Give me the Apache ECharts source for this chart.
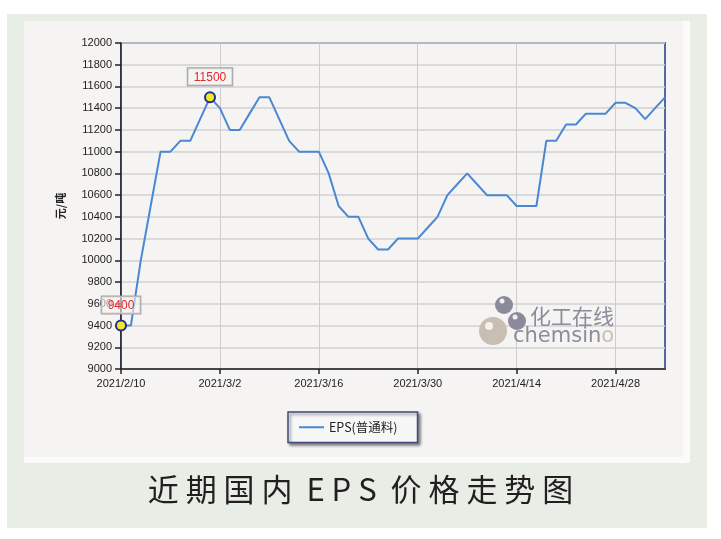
<!DOCTYPE html>
<html>
<head>
<meta charset="utf-8">
<script src="https://cdn.jsdelivr.net/npm/echarts@6/dist/echarts.min.js"></script>
<style>html,body{margin:0;padding:0;background:#fff}#c{width:721px;height:539px}</style>
</head>
<body>
<div id="c"></div>
<script>
const dates = ['2021/2/10','2021/2/18','2021/2/19','2021/2/20','2021/2/22','2021/2/23','2021/2/24','2021/2/25','2021/2/26','2021/3/1',
  '2021/3/2','2021/3/3','2021/3/4','2021/3/5','2021/3/8','2021/3/9','2021/3/10','2021/3/11','2021/3/12','2021/3/15',
  '2021/3/16','2021/3/17','2021/3/18','2021/3/19','2021/3/22','2021/3/23','2021/3/24','2021/3/25','2021/3/26','2021/3/29',
  '2021/3/30','2021/3/31','2021/4/1','2021/4/2','2021/4/6','2021/4/7','2021/4/8','2021/4/9','2021/4/12','2021/4/13',
  '2021/4/14','2021/4/15','2021/4/16','2021/4/19','2021/4/20','2021/4/21','2021/4/22','2021/4/23','2021/4/26','2021/4/27',
  '2021/4/28','2021/4/29','2021/4/30','2021/5/6','2021/5/7','2021/5/8'];
const epsPrice = [9400,9400,10000,10500,11000,11000,11100,11100,11300,11500,
  11400,11200,11200,11350,11500,11500,11300,11100,11000,11000,
  11000,10800,10500,10400,10400,10200,10100,10100,10200,10200,
  10200,10300,10400,10600,10700,10800,10700,10600,10600,10600,
  10500,10500,10500,11100,11100,11250,11250,11350,11350,11350,
  11450,11450,11400,11300,11400,11500];
const markedIdx = [0, 9];
const seriesName = 'EPS(普通料)';
const yName = '元/吨';
const titleText = '近 期 国 内  E P S  价 格 走 势 图';

const chart = echarts.init(document.getElementById('c'), null, {renderer: 'canvas'});
const seriesData = epsPrice.map((v, i) => markedIdx.includes(i) ? {
  value: v, symbol: 'circle', symbolSize: 10,
  itemStyle: {color: '#f2e82a', borderColor: '#1f2f8f', borderWidth: 2},
  label: {show: true, position: 'top', distance: 6, color: '#e8252a', fontSize: 12,
    fontFamily: 'Liberation Sans, Arial, sans-serif',
    backgroundColor: 'rgba(245,245,245,0.6)', borderColor: '#a0a0a0', borderWidth: 1,
    padding: [3, 6, 2, 6]}
} : v);

chart.setOption({
  backgroundColor: '#ffffff',
  animation: false,
  title: {
    text: titleText, left: 'center', top: 469,
    textStyle: {fontFamily: 'Noto Sans CJK SC', fontSize: 31, fontWeight: 'normal', color: '#231f20'}
  },
  graphic: {elements: [
    {type: 'rect', z: -100, shape: {x: 7, y: 14, width: 700, height: 514}, style: {fill: '#e8ede6'}},
    {type: 'rect', z: -99, shape: {x: 24, y: 21, width: 666, height: 442}, style: {fill: '#fbfbfa'}},
    {type: 'rect', z: -98, shape: {x: 24, y: 21, width: 659, height: 436}, style: {fill: '#f5f4f2'}},
    {type: 'circle', z: 1, shape: {cx: 493, cy: 331, r: 14}, style: {fill: '#c9beb3'}},
    {type: 'circle', z: 1, shape: {cx: 489, cy: 326, r: 4}, style: {fill: '#f5f2ee'}},
    {type: 'circle', z: 1, shape: {cx: 504, cy: 305, r: 9}, style: {fill: '#8a8a9c'}},
    {type: 'circle', z: 1, shape: {cx: 502, cy: 301, r: 2.5}, style: {fill: '#f0f0f0'}},
    {type: 'circle', z: 1, shape: {cx: 517, cy: 321, r: 9}, style: {fill: '#8a8a9c'}},
    {type: 'circle', z: 1, shape: {cx: 515, cy: 317, r: 2.5}, style: {fill: '#f0f0f0'}},
    {type: 'text', z: 1, left: 530, top: 306, style: {text: '化工在线', fill: '#8c8c9c', fontSize: 21, fontFamily: 'Noto Sans CJK SC'}},
    {type: 'text', z: 1, left: 513, top: 326, style: {
      text: '{a|chemsin}{b|o}', fontSize: 21, fontFamily: 'DejaVu Sans',
      rich: {a: {fill: '#8c8c9c', fontSize: 21, fontFamily: 'DejaVu Sans'}, b: {fill: '#cbbfb3', fontSize: 21, fontFamily: 'DejaVu Sans'}}
    }}
  ]},
  grid: {left: 121, top: 43, width: 544, height: 326, show: true, borderColor: '#4f6a9e', borderWidth: 2, backgroundColor: 'transparent'},
  legend: {
    data: [seriesName], left: 288, top: 412, orient: 'horizontal',
    backgroundColor: '#f7f7f7', borderColor: '#3d4b7e', borderWidth: 1.5, borderRadius: 0,
    padding: [9, 20, 9, 10], itemWidth: 25, itemHeight: 2, itemGap: 6,
    shadowBlur: 3, shadowColor: 'rgba(0,0,0,0.45)', shadowOffsetX: 2, shadowOffsetY: 2,
    textStyle: {fontSize: 12.5, color: '#222', fontFamily: 'Noto Sans CJK SC'}
  },
  xAxis: {
    type: 'category', data: dates, boundaryGap: false,
    axisLine: {lineStyle: {color: '#222', width: 1.5}},
    axisTick: {show: true, interval: 9, length: 5, lineStyle: {color: '#222', width: 1.5}},
    axisLabel: {interval: 9, color: '#222', fontSize: 11, margin: 9, fontFamily: 'Liberation Sans, Arial, sans-serif'},
    splitLine: {show: true, interval: 9, lineStyle: {color: '#cccccc', width: 1}}
  },
  yAxis: {
    type: 'value', min: 9000, max: 12000, interval: 200,
    name: yName, nameLocation: 'middle', nameGap: 55, nameRotate: 90,
    nameTextStyle: {fontSize: 11, color: '#222', fontWeight: 'bold', fontFamily: 'Noto Sans CJK SC'},
    axisLine: {show: true, lineStyle: {color: '#222', width: 1.5}},
    axisTick: {show: true, length: 6, lineStyle: {color: '#222', width: 1.5}},
    axisLabel: {color: '#222', fontSize: 11, margin: 9, fontFamily: 'Liberation Sans, Arial, sans-serif',
      formatter: v => String(v)},
    splitLine: {show: true, lineStyle: {color: '#d2d2d2', width: 1.5}}
  },
  series: [{
    name: seriesName, type: 'line', data: seriesData,
    symbol: 'none', showSymbol: true, showAllSymbol: true,
    lineStyle: {color: '#4a88d4', width: 2},
    itemStyle: {color: '#4a88d4'},
    z: 3
  }]
});
</script>
</body>
</html>
